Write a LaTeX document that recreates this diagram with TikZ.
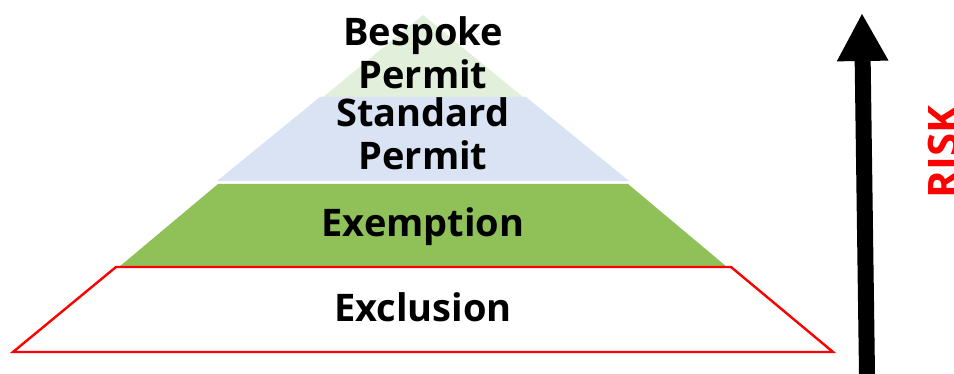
\documentclass[tikz,border=0pt]{standalone}
\usepackage{fontspec}
\setmainfont{Open Sans}
\usetikzlibrary{arrows.meta}
\definecolor{topgreen}{HTML}{E2EFDA}
\definecolor{midblue}{HTML}{DAE3F3}
\definecolor{layergreen}{HTML}{8FC158}
\definecolor{riskred}{HTML}{FF0000}
\tikzset{
  lbl/.style={font=\bfseries\fontsize{38}{43}\selectfont, text=black, inner sep=0pt, anchor=base, align=center},
  layer/.style={draw=none}
}
\begin{document}
\begin{tikzpicture}[x=1pt,y=-1pt]
\useasboundingbox (0,0) rectangle (954,374);
% layers
\fill[topgreen] (423,15) -- (523,97) -- (323,97) -- cycle;
\fill[midblue] (320,97) -- (526,97) -- (629,181) -- (217,181) -- cycle;
\fill[layergreen] (218,184) -- (628,184) -- (727,267) -- (119,267) -- cycle;
\draw[riskred, line width=2.4pt, fill=white, line join=miter] (116,267) -- (731,267) -- (833,352) -- (13,352) -- cycle;
% labels
\node[lbl] (bespoke) at (423,89) {Bespoke\\Permit};
\node[lbl] (standard) at (423,170) {Standard\\Permit};
\node[lbl] (exemption) at (423,237) {Exemption};
\node[lbl] (exclusion) at (423,322) {Exclusion};
% risk arrow
\coordinate (abot) at (867,374);
\coordinate (atop) at (862,13);
\draw[line width=16pt, -{Triangle[length=48pt,width=48pt]}] (abot) -- (atop);
\node[font=\bfseries\fontsize{42}{42}\selectfont, text=riskred, rotate=90, inner sep=0pt, anchor=base] (risk) at (958,152) {RISK};
\end{tikzpicture}
\end{document}
